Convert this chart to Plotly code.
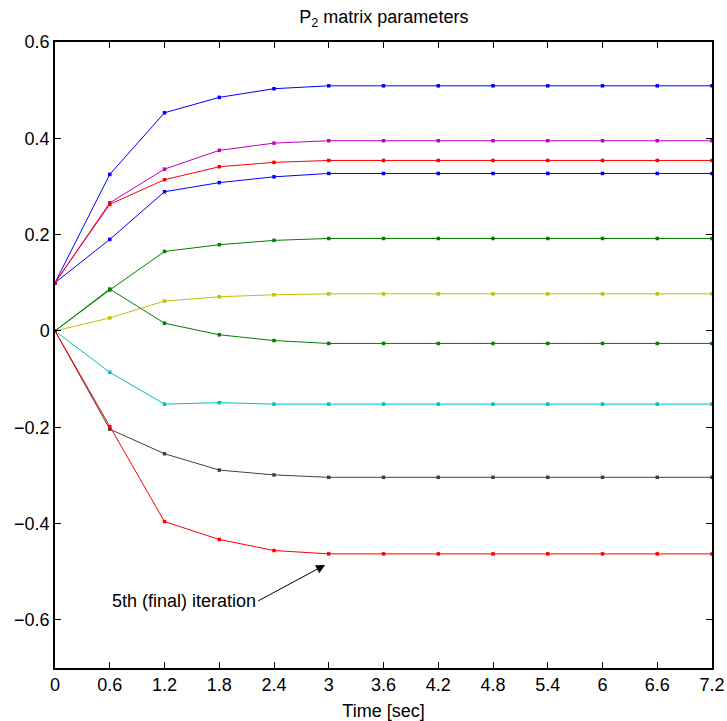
import plotly.graph_objects as go

time = [0, 0.6, 1.2, 1.8, 2.4, 3, 3.6, 4.2, 4.8, 5.4, 6, 6.6, 7.2]
x_tick_labels = ["0", "0.6", "1.2", "1.8", "2.4", "3", "3.6", "4.2", "4.8", "5.4", "6", "6.6", "7.2"]
y_tick_vals = [-0.6, -0.4, -0.2, 0, 0.2, 0.4, 0.6]
y_tick_labels = ["\u22120.6", "\u22120.4", "\u22120.2", "0", "0.2", "0.4", "0.6"]

p_blue_top = [0.1, 0.325, 0.453, 0.485, 0.503, 0.509, 0.509, 0.509, 0.509, 0.509, 0.509, 0.509, 0.509]
p_magenta = [0.1, 0.266, 0.336, 0.375, 0.390, 0.395, 0.395, 0.395, 0.395, 0.395, 0.395, 0.395, 0.395]
p_red_top = [0.1, 0.263, 0.314, 0.341, 0.350, 0.354, 0.354, 0.354, 0.354, 0.354, 0.354, 0.354, 0.354]
p_blue_low = [0.1, 0.190, 0.289, 0.308, 0.320, 0.327, 0.327, 0.327, 0.327, 0.327, 0.327, 0.327, 0.327]
p_green_top = [0.0, 0.085, 0.165, 0.179, 0.188, 0.192, 0.192, 0.192, 0.192, 0.192, 0.192, 0.192, 0.192]
p_yellow = [0.0, 0.027, 0.062, 0.071, 0.075, 0.077, 0.077, 0.077, 0.077, 0.077, 0.077, 0.077, 0.077]
p_green_low = [0.0, 0.087, 0.016, -0.008, -0.020, -0.026, -0.026, -0.026, -0.026, -0.026, -0.026, -0.026, -0.026]
p_cyan = [0.0, -0.086, -0.152, -0.149, -0.152, -0.152, -0.152, -0.152, -0.152, -0.152, -0.152, -0.152, -0.152]
p_gray = [0.0, -0.204, -0.255, -0.289, -0.299, -0.304, -0.304, -0.304, -0.304, -0.304, -0.304, -0.304, -0.304]
p_red_low = [0.0, -0.199, -0.396, -0.433, -0.456, -0.463, -0.463, -0.463, -0.463, -0.463, -0.463, -0.463, -0.463]

series = [
    (p_blue_top, "#0000ff"),
    (p_magenta, "#bf00bf"),
    (p_blue_low, "#0000ff"),
    (p_red_top, "#ff0000"),
    (p_green_top, "#008000"),
    (p_yellow, "#bfbf00"),
    (p_green_low, "#008000"),
    (p_cyan, "#00bfbf"),
    (p_gray, "#404040"),
    (p_red_low, "#ff0000"),
]

font = "Liberation Sans"

fig = go.Figure()
for vals, col in series:
    fig.add_trace(go.Scatter(
        x=time, y=vals, mode="lines+markers",
        line=dict(color=col, width=1),
        marker=dict(color=col, size=3.5, symbol="square"),
        showlegend=False,
    ))

fig.add_annotation(
    x=2.96, y=-0.486, xref="x", yref="y",
    text="5th (final) iteration", showarrow=True,
    ax=-67, ay=36, xanchor="right", yanchor="middle",
    arrowhead=2, arrowsize=1.8, arrowwidth=1, arrowcolor="black",
    font=dict(family=font, size=18, color="black"),
)

fig.update_layout(
    width=727, height=721,
    margin=dict(l=55, r=15, t=42, b=53),
    paper_bgcolor="white", plot_bgcolor="white",
    font=dict(family=font, size=18, color="black"),
    title=dict(text="P<sub>2</sub> matrix parameters", x=0.528, xanchor="center",
               y=0.977, yanchor="middle", font=dict(family=font, size=18)),
)
fig.update_xaxes(
    range=[0, 7.2], tickvals=time, ticktext=x_tick_labels,
    ticks="inside", ticklen=6, tickcolor="black", tickwidth=1,
    showline=True, linecolor="black", linewidth=1.5, mirror="ticks",
    showgrid=False, zeroline=False, automargin=False,
    tickfont=dict(family=font, size=18),
    title=dict(text="Time [sec]", font=dict(family=font, size=18)),
)
fig.update_yaxes(
    range=[-0.7, 0.6], tickvals=y_tick_vals, ticktext=y_tick_labels,
    ticks="inside", ticklen=6, tickcolor="black", tickwidth=1,
    showline=True, linecolor="black", linewidth=1.5, mirror="ticks",
    showgrid=False, zeroline=False, automargin=False,
    tickfont=dict(family=font, size=18),
)

fig.write_html(
    "out.html",
    config={"displayModeBar": False},
    post_script="document.body.style.margin='0';document.body.style.overflow='hidden';",
)
